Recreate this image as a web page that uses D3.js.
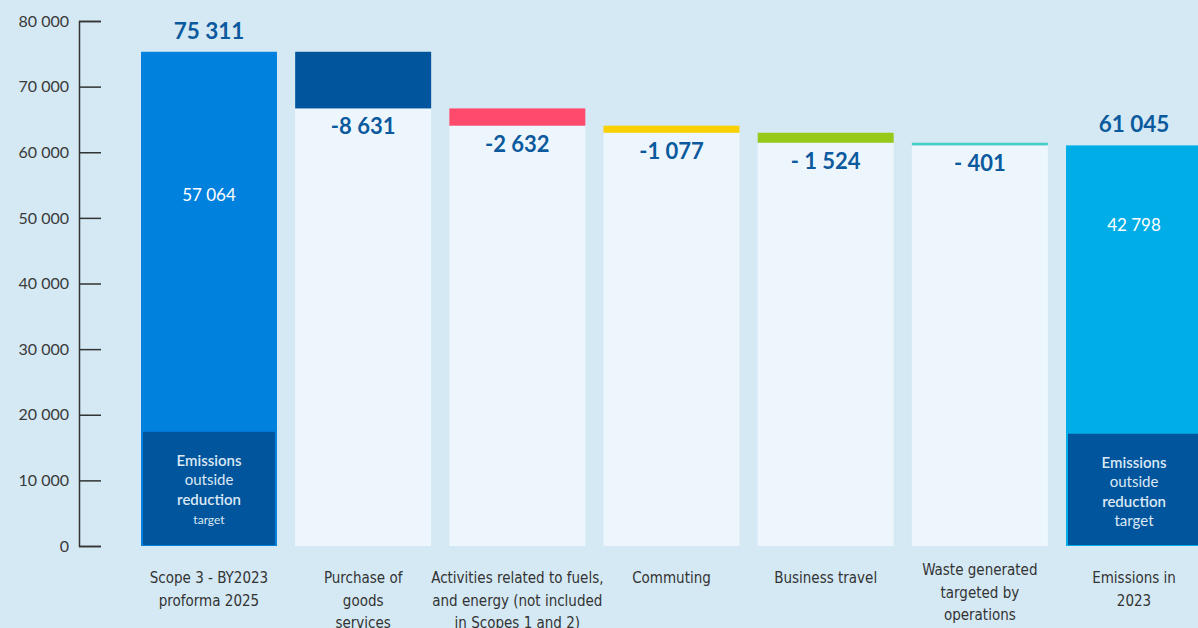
<!DOCTYPE html>
<html>
<head>
<meta charset="utf-8">
<script src="https://cdn.jsdelivr.net/npm/d3@7"></script>
<style>
  html, body { margin: 0; padding: 0; background: #d4e9f4; }
  svg { display: block; }
</style>
</head>
<body>
<svg class="chart"></svg>
<script>
"use strict";
var width = 1198;
var height = 628;

// data
var categories = ["scope3", "purchase", "fuels", "commuting", "travel", "waste", "emissions2023"];
var categoryLabels = [
	["Scope 3 - BY2023", "proforma 2025"],
	["Purchase of", "goods", "services"],
	["Activities related to fuels,", "and energy (not included", "in Scopes 1 and 2)"],
	["Commuting"],
	["Business travel"],
	["Waste generated", "targeted by", "operations"],
	["Emissions in", "2023"]
];
var startTotal = 75311;
var endTotal = 61045;
var deltas = [-8631, -2632, -1077, -1524, -401];
var deltaLabels = ["-8 631", "-2 632", "-1 077", "- 1 524", "- 401"];
var totalLabels = ["75 311", "61 045"];
var targetLabels = ["57 064", "42 798"];
var outsideTarget = [17400, 17100];
var yTicks = [0, 10000, 20000, 30000, 40000, 50000, 60000, 70000, 80000];

var deltaColors = ["#00559d", "#ff4a6c", "#f9d000", "#97c91b", "#45cec6"];
var totalColors = ["#0081dd", "#00ade7"];
var darkBlue = "#00559d";
var lightBar = "#eef6fd";
var labelBlue = "#0b5a9e";

var svg = d3.select(".chart")
	.attr("width", width)
	.attr("height", height);

var x = d3.scaleBand()
	.domain(categories)
	.range([141, 1202])
	.paddingInner(0.118)
	.paddingOuter(0);

var y = d3.scaleLinear()
	.domain([0, 80000])
	.range([546, 21]);

// y axis
var axis = svg.append("g")
	.attr("transform", "translate(79,0)")
	.call(d3.axisLeft(y)
		.tickValues(yTicks)
		.tickSize(-22)
		.tickPadding(32)
		.tickFormat(function(d) { return d3.format(",")(d).replace(/,/g, " "); }));
axis.select(".domain").attr("stroke", "#333").attr("stroke-width", 1.5);
axis.selectAll(".tick line").attr("stroke", "#333").attr("stroke-width", 1.5);
axis.selectAll(".tick text")
	.attr("fill", "#3a3a3a")
	.attr("font-family", "Lato, sans-serif")
	.attr("font-size", 16)
	.attr("dx", 22);

var bw = x.bandwidth();

// total bars (first and last)
var totals = [
	{cat: categories[0], value: startTotal, color: totalColors[0], label: totalLabels[0], target: targetLabels[0], outside: outsideTarget[0], offset: 143},
	{cat: categories[6], value: endTotal, color: totalColors[1], label: totalLabels[1], target: targetLabels[1], outside: outsideTarget[1], offset: 80}
];

var tg = svg.selectAll("g.total")
	.data(totals)
	.enter()
	.append("g")
	.attr("class", "total");
tg.append("rect")
	.attr("x", function(d) { return x(d.cat); })
	.attr("y", function(d) { return y(d.value); })
	.attr("width", bw)
	.attr("height", function(d) { return y(0) - y(d.value); })
	.attr("fill", function(d) { return d.color; });
tg.append("rect")
	.attr("x", function(d) { return x(d.cat) + 2; })
	.attr("y", function(d) { return y(d.outside); })
	.attr("width", bw - 4)
	.attr("height", function(d) { return y(0) - y(d.outside) - 1; })
	.attr("fill", darkBlue);
tg.append("text")
	.attr("x", function(d) { return x(d.cat) + bw / 2; })
	.attr("y", function(d) { return y(d.value) - 13; })
	.attr("text-anchor", "middle")
	.attr("font-family", "Lato, sans-serif")
	.attr("font-weight", "bold")
	.attr("font-size", 22.5)
	.attr("fill", labelBlue)
	.text(function(d) { return d.label; });
tg.append("text")
	.attr("x", function(d) { return x(d.cat) + bw / 2; })
	.attr("y", function(d) { return y(d.value) + d.offset + 6; })
	.attr("text-anchor", "middle")
	.attr("font-family", "Lato, sans-serif")
	.attr("font-size", 17)
	.attr("fill", "#ffffff")
	.text(function(d) { return d.target; });

// text inside the dark part
var innerLines = [
	[{t: "Emissions", w: 600, s: 15}, {t: "outside", w: 400, s: 15}, {t: "reduction", w: 600, s: 15}, {t: "target", w: 400, s: 12}],
	[{t: "Emissions", w: 600, s: 15}, {t: "outside", w: 400, s: 15}, {t: "reduction", w: 600, s: 15}, {t: "target", w: 400, s: 15}]
];
tg.each(function(d, i) {
	var g = d3.select(this);
	var top = y(d.outside);
	g.selectAll("text.inner")
		.data(innerLines[i])
		.enter()
		.append("text")
		.attr("class", "inner")
		.attr("x", x(d.cat) + bw / 2)
		.attr("y", function(l, j) { return top + 34 + j * 19.5; })
		.attr("text-anchor", "middle")
		.attr("font-family", "Lato, sans-serif")
		.attr("font-weight", function(l) { return l.w; })
		.attr("font-size", function(l) { return l.s; })
		.attr("fill", "#dbe8f5")
		.text(function(l) { return l.t; });
});

// waterfall steps
var steps = [];
var running = startTotal;
deltas.forEach(function(v, i) {
	steps.push({cat: categories[i + 1], from: running, to: running + v, color: deltaColors[i], label: deltaLabels[i]});
	running += v;
});

var sg = svg.selectAll("g.step")
	.data(steps)
	.enter()
	.append("g")
	.attr("class", "step");
sg.append("rect")
	.attr("x", function(d) { return x(d.cat); })
	.attr("y", function(d) { return y(d.to); })
	.attr("width", bw)
	.attr("height", function(d) { return y(0) - y(d.to); })
	.attr("fill", lightBar);
sg.append("rect")
	.attr("x", function(d) { return x(d.cat); })
	.attr("y", function(d) { return y(d.from); })
	.attr("width", bw)
	.attr("height", function(d) { return y(d.to) - y(d.from); })
	.attr("fill", function(d) { return d.color; });
sg.append("text")
	.attr("x", function(d) { return x(d.cat) + bw / 2; })
	.attr("y", function(d) { return y(d.to) + 26; })
	.attr("text-anchor", "middle")
	.attr("font-family", "Lato, sans-serif")
	.attr("font-weight", "bold")
	.attr("font-size", 22)
	.attr("fill", labelBlue)
	.text(function(d) { return d.label; });

// category labels
var cl = svg.selectAll("text.cat")
	.data(categories)
	.enter()
	.append("text")
	.attr("class", "cat")
	.attr("text-anchor", "middle")
	.attr("font-family", "'DejaVu Sans Condensed', 'Liberation Sans Narrow', sans-serif")
	.attr("font-size", 15)
	.attr("fill", "#333");
cl.each(function(d, i) {
	var t = d3.select(this);
	var y0 = (i === 5) ? 575 : 583;
	t.selectAll("tspan")
		.data(categoryLabels[i])
		.enter()
		.append("tspan")
		.attr("x", x(d) + bw / 2)
		.attr("y", function(l, j) { return y0 + j * 22.5; })
		.text(function(l) { return l; });
});
</script>
</body>
</html>
